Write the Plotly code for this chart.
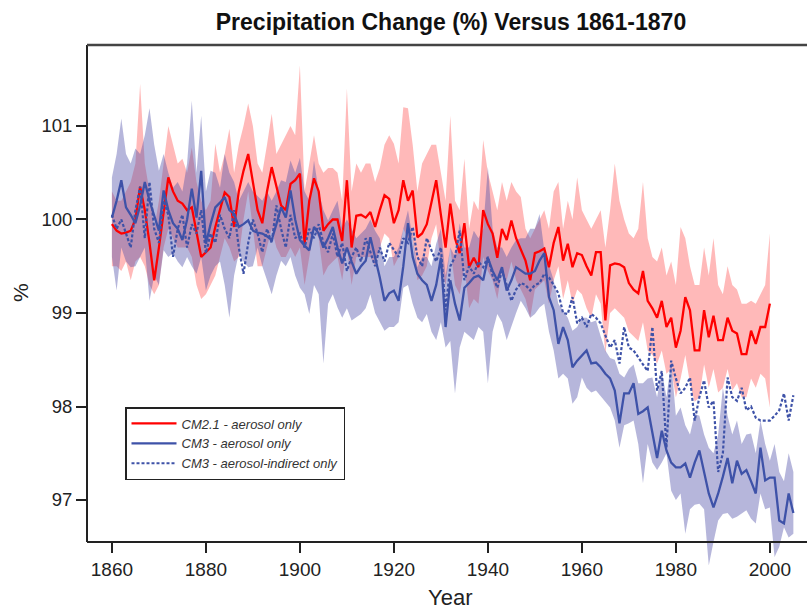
import plotly.graph_objects as go

# ---------------- data ----------------
start_year = 1860

cm21_aerosol = [
    99.95, 99.88, 99.85, 99.86, 99.88, 100.0, 100.35, 100.1, 99.75, 99.35,
    99.7, 100.05, 100.45, 100.3, 100.2, 100.17, 100.1, 100.13, 99.85, 99.6,
    99.65, 99.7, 99.92, 100.1, 100.29, 100.24, 99.92, 100.3, 100.52, 100.7,
    100.4, 100.1, 99.96, 100.3, 100.56, 100.35, 100.15, 100.1, 100.38, 100.42,
    100.49, 99.74, 100.2, 100.44, 100.3, 99.88, 99.95, 100.0, 100.0, 99.77,
    100.42, 99.7, 100.04, 100.05, 100.02, 100.08, 99.92, 100.1, 100.26, 100.22,
    99.96, 100.1, 100.42, 100.2, 100.31, 99.81, 99.85, 99.95, 100.2, 100.42,
    100.05, 99.7, 100.17, 99.8, 99.64, 99.96, 99.49, 99.59, 99.49, 100.1,
    99.95, 99.85, 99.59, 99.9, 99.78, 99.99, 99.8, 99.67, 99.56, 99.35,
    99.64, 99.66, 99.69, 99.49, 99.75, 99.92, 99.56, 99.74, 99.49, 99.64,
    99.62, 99.5, 99.4, 99.65, 99.65, 98.92, 99.51, 99.53, 99.52, 99.49,
    99.32, 99.25, 99.21, 99.45, 99.13, 99.05, 98.95, 99.13, 98.85, 98.95,
    98.63, 98.81, 99.17, 99.03, 98.6, 98.6, 99.03, 98.74, 98.97, 98.71,
    98.71, 98.95, 98.81, 98.78, 98.56, 98.56, 98.81, 98.67, 98.85, 98.85,
    99.1,
]
cm21_hi = [
    100.3, 100.2, 100.2, 100.3, 100.4, 100.6, 101.45, 100.6, 100.3, 99.9,
    100.2, 100.6, 101.0, 100.8, 100.6, 100.65, 100.5, 100.77, 100.4, 100.2,
    100.1, 100.2, 100.81, 100.5, 100.7, 100.97, 100.5, 100.8, 101.0, 101.24,
    101.0, 100.6, 100.5, 100.8, 101.13, 100.7, 100.8, 100.9, 101.0, 100.9,
    101.65, 100.3, 100.6, 100.9, 100.6, 100.5, 100.55, 100.55, 100.5, 100.2,
    101.4, 100.3, 100.6, 100.5, 100.6, 100.6, 100.4, 100.55, 100.8, 100.9,
    100.81, 100.6, 101.2, 101.19, 100.8, 100.3, 100.6, 100.7, 100.8, 100.8,
    100.5, 100.2, 101.11, 100.2, 100.1, 100.65, 99.9, 100.2, 100.1, 100.85,
    100.5, 100.3, 100.1, 100.4, 100.2, 100.4, 100.3, 100.24, 99.9, 99.8,
    99.9, 100.0, 100.1, 99.9, 100.3, 100.4, 99.9, 100.2, 100.0, 100.45,
    100.1, 100.0, 99.9, 100.0, 100.1, 99.7, 100.1, 100.6, 100.2, 100.0,
    99.85, 99.8, 99.9, 100.4, 99.8, 99.6, 99.55, 99.7, 99.4, 99.55,
    99.3, 99.92, 99.8, 99.5, 99.3, 99.3, 99.7, 99.4, 99.8, 99.3,
    99.2, 99.5, 99.3, 99.25, 99.1, 99.1, 99.13, 99.1, 99.2, 99.3,
    99.85,
]
cm21_lo = [
    99.5, 99.5, 99.45, 99.55, 99.35, 99.55, 99.6, 99.5, 99.3, 99.2,
    99.3, 99.7, 99.9, 99.8, 99.7, 99.7, 99.7, 99.6, 99.3, 99.15,
    99.2, 99.3, 99.4, 99.6, 99.8, 99.7, 99.55, 99.6, 100.0, 100.3,
    99.9, 99.5, 99.5, 99.7, 99.9, 99.7, 99.6, 99.6, 99.7, 99.6,
    99.7, 99.3, 99.6, 99.9, 99.8, 99.4, 99.5, 99.55, 99.6, 99.35,
    99.7, 99.3, 99.6, 99.6, 99.6, 99.6, 99.5, 99.7, 99.85, 99.8,
    99.5, 99.6, 99.9, 99.8, 99.8, 99.35, 99.4, 99.5, 99.8, 99.95,
    99.5, 99.3, 99.7, 99.3, 99.2, 99.5, 99.05, 99.15, 99.1, 99.6,
    99.45, 99.35, 99.15, 99.45, 99.35, 99.55, 99.35, 99.25, 99.15, 98.95,
    99.25, 99.3, 99.35, 99.1, 99.35, 99.5, 99.15, 99.35, 99.1, 99.25,
    99.2, 99.05, 98.95, 99.2, 99.1, 98.57, 99.0, 99.05, 99.0, 98.95,
    98.8, 98.75, 98.7, 98.9, 98.6, 98.55, 98.46, 98.6, 98.35, 98.4,
    98.1, 98.3, 98.55, 98.25, 98.05, 98.1, 98.45, 98.2, 98.4, 98.15,
    98.2, 98.4, 98.17, 98.25, 98.1, 98.1, 98.3, 98.2, 98.35, 98.3,
    97.99,
]

cm3_aerosol = [
    100.02, 100.2, 100.42, 100.13, 100.05, 99.96, 100.15, 100.4, 100.2, 100.05,
    99.88, 100.31, 100.1, 99.96, 99.9, 99.78, 100.0, 100.33, 100.02, 100.52,
    99.74, 99.95, 100.13, 100.18, 100.24, 100.1, 100.06, 99.92, 99.95, 99.99,
    99.88, 99.86, 99.85, 99.82, 99.78, 99.95, 100.13, 100.02, 100.31, 100.0,
    99.78, 99.72, 99.67, 99.92, 99.85, 99.7, 99.8, 99.92, 99.7, 99.53,
    99.7, 99.55, 99.42, 99.5, 99.56, 99.81, 99.6, 99.38, 99.13, 99.21,
    99.24, 99.13, 99.5, 99.96, 99.6, 99.42, 99.35, 99.3, 99.13, 99.3,
    99.59, 98.85, 99.35, 99.1, 98.92, 99.27, 99.32, 99.38, 99.4, 99.35,
    99.59, 99.45, 99.35, 99.49, 99.24, 99.35, 99.49, 99.45, 99.42, 99.42,
    99.45, 99.56, 99.64, 99.17, 99.03, 98.67, 98.85, 98.71, 98.42, 98.49,
    98.55, 98.6, 98.46, 98.47, 98.42, 98.35, 98.3, 98.17, 97.82, 98.14,
    98.14, 98.25, 97.92, 97.95, 97.99, 97.7, 97.45, 97.74, 97.53, 97.4,
    97.35, 97.35, 97.39, 97.24, 97.4, 97.53, 97.3, 97.07, 96.92, 97.07,
    97.25, 97.45, 97.18, 97.42, 97.28, 97.32, 97.2, 97.07, 97.56, 97.21,
    97.24, 97.24, 96.78, 96.75, 97.07, 96.86,
]
cm3_hi = [
    100.45, 100.7, 101.08, 100.7, 100.6, 100.76, 100.7, 100.9, 101.19, 100.8,
    100.52, 100.7, 100.5, 100.34, 100.4, 100.3, 100.6, 101.27, 100.5, 101.11,
    100.3, 100.52, 100.5, 100.34, 100.7, 100.5, 100.4, 100.2, 100.3, 100.4,
    100.3, 100.25, 100.2, 100.3, 100.2, 100.3, 100.42, 100.4, 100.63, 100.5,
    100.66, 100.3, 100.2, 100.63, 100.3, 100.1, 99.99, 100.1, 100.2, 99.9,
    100.0, 99.9, 99.8, 99.85, 99.9, 100.0, 99.88, 99.8, 99.5, 99.6,
    99.6, 99.7, 99.9, 100.1, 99.8, 99.49, 99.6, 99.6, 99.5, 99.74,
    99.9, 99.4, 99.7, 99.6, 99.96, 99.7, 99.7, 99.88, 99.8, 99.9,
    100.56, 99.9, 99.7, 99.7, 99.6, 99.7, 99.78, 99.8, 99.8, 99.9,
    99.9, 100.06, 99.67, 99.5, 99.35, 99.1, 99.03, 98.95, 98.81, 98.85,
    98.95, 98.95, 98.9, 98.92, 98.75, 98.6, 98.52, 98.5, 98.35, 98.31,
    98.4, 98.45, 98.25, 98.25, 98.3, 98.31, 98.1, 98.38, 98.1, 98.49,
    97.9, 97.99, 97.8, 97.7, 97.92, 97.9, 97.7, 97.56, 97.5, 97.7,
    98.2, 97.9, 97.7, 97.85, 97.6, 97.7, 97.71, 97.5, 97.85, 97.6,
    97.42, 97.6, 97.3, 97.2, 97.5, 97.3,
]
cm3_lo = [
    99.6, 99.24, 99.7, 99.55, 99.49, 99.5, 99.6, 99.7, 99.13, 99.4,
    99.3, 99.67, 99.6, 99.64, 99.55, 99.49, 99.6, 99.5, 99.42, 99.6,
    99.24, 99.4, 99.5, 99.55, 99.3, 98.95, 99.4, 99.64, 99.55, 99.49,
    99.5, 99.7, 99.5, 99.35, 99.2, 99.4, 99.56, 99.5, 99.6, 99.4,
    99.27, 99.2, 98.99, 99.3, 99.2, 98.46, 99.1, 99.2, 99.06, 98.95,
    99.05, 98.92, 98.95, 98.99, 99.05, 99.2, 99.0, 98.9, 98.81, 98.85,
    98.85, 98.9, 99.27, 99.3, 99.1, 98.95, 98.9, 98.99, 98.8, 98.71,
    98.9, 98.63, 98.7, 98.14, 98.63, 98.8, 98.75, 98.71, 98.85, 98.8,
    98.25, 98.8, 98.99, 98.9, 98.71, 98.85, 99.0, 99.13, 99.05, 98.95,
    98.99, 99.06, 99.1, 98.8, 98.6, 98.3, 98.35, 98.3, 98.03, 98.1,
    98.31, 98.2, 98.15, 98.17, 98.1, 98.05, 97.99, 97.85, 97.56, 97.8,
    97.82, 97.85, 97.6, 97.18, 97.6, 97.4, 97.32, 97.4, 97.5, 97.1,
    97.0, 97.07, 96.64, 96.9, 96.95, 96.96, 96.9, 96.3, 96.55, 96.78,
    96.85, 96.86, 96.8, 96.82, 96.85, 96.89, 96.8, 96.75, 97.07, 96.9,
    96.92, 96.39, 96.5, 96.71, 96.6, 96.64,
]

cm3_indirect = [
    100.05, 99.9, 100.0, 99.85, 99.7, 100.1, 100.35, 99.8, 100.4, 99.9,
    99.75, 100.2, 100.05, 99.6, 99.9, 100.05, 99.7, 99.95, 99.85, 100.1,
    99.64, 99.85, 99.75, 100.05, 99.9, 99.8, 100.1, 99.7, 99.42, 99.75,
    100.0, 99.85, 99.65, 99.9, 99.75, 100.15, 99.9, 99.7, 100.05, 99.8,
    99.85, 99.7, 99.9, 99.8, 99.95, 99.75, 99.65, 99.85, 99.6, 99.75,
    99.45, 99.6, 99.7, 99.55, 99.8, 99.65, 99.5, 99.7, 99.55, 99.75,
    99.67, 99.6, 99.8, 99.75, 99.92, 99.6, 99.5, 99.8, 99.67, 99.55,
    99.7, 99.03, 99.5, 99.6, 99.88, 99.35, 99.5, 99.42, 99.55, 99.49,
    99.6, 99.4, 99.27, 99.45, 99.3, 99.13, 99.25, 99.32, 99.3, 99.24,
    99.3, 99.32, 99.42, 99.38, 99.3, 99.21, 99.0, 98.99, 99.17, 98.89,
    98.95, 98.85, 98.99, 98.95, 98.89, 98.75, 98.63, 98.71, 98.46, 98.85,
    98.63, 98.6, 98.52, 98.45, 98.38, 98.85, 98.17, 98.38, 97.56, 98.49,
    98.3, 98.14, 98.2, 98.31, 97.85, 98.1, 98.28, 97.99, 98.06, 97.3,
    97.5, 98.31, 98.1, 98.06, 98.2, 97.96, 98.0, 97.88, 97.85, 97.85,
    97.85, 97.9, 97.96, 98.14, 97.85, 98.12,
]

x_ticks = [1860, 1880, 1900, 1920, 1940, 1960, 1980, 2000]
y_ticks = [97, 98, 99, 100, 101]
title_text = "Precipitation Change (%) Versus 1861-1870"
series_names = ["CM2.1 - aerosol only", "CM3 - aerosol only", "CM3 - aerosol-indirect only"]

# ---------------- styling ----------------
RED = "#ff0000"
BLUE = "#3e52a8"
RED_BAND = "rgba(255,70,70,0.38)"
BLUE_BAND = "rgba(80,80,170,0.42)"
FONT = "Liberation Sans, Arial, Helvetica, sans-serif"
AXC = "#222222"

years_red = list(range(start_year, start_year + len(cm21_aerosol)))
years_blue = list(range(start_year, start_year + len(cm3_aerosol)))
years_dot = list(range(start_year, start_year + len(cm3_indirect)))

fig = go.Figure()

# bands
fig.add_trace(go.Scatter(
    x=years_red + years_red[::-1], y=cm21_hi + cm21_lo[::-1],
    fill="toself", fillcolor=RED_BAND, line=dict(width=0),
    mode="lines", showlegend=False, hoverinfo="skip"))
fig.add_trace(go.Scatter(
    x=years_blue + years_blue[::-1], y=cm3_hi + cm3_lo[::-1],
    fill="toself", fillcolor=BLUE_BAND, line=dict(width=0),
    mode="lines", showlegend=False, hoverinfo="skip"))

# lines
fig.add_trace(go.Scatter(x=years_red, y=cm21_aerosol, mode="lines",
                         name=series_names[0], line=dict(color=RED, width=2.3)))
fig.add_trace(go.Scatter(x=years_blue, y=cm3_aerosol, mode="lines",
                         name=series_names[1], line=dict(color=BLUE, width=2.3)))
fig.add_trace(go.Scatter(x=years_dot, y=cm3_indirect, mode="lines",
                         name=series_names[2],
                         line=dict(color=BLUE, width=2.2, dash="3px,2px")))

# geometry: plot area from y=45px to y=565px; bottom axis line at y=542px
Y_TOP, Y_BOT = 101.866, 96.305
AXIS_POS = (565 - 542) / 520
y_axis_val = Y_BOT + AXIS_POS * (Y_TOP - Y_BOT)

fig.update_layout(
    width=807, height=610,
    margin=dict(l=87, r=0, t=45, b=45, pad=0),
    paper_bgcolor="white", plot_bgcolor="white",
    font=dict(family=FONT, color=AXC),
    title=dict(text="<b>" + title_text + "</b>", x=451 / 807, xref="container",
               xanchor="center", y=1 - 22 / 610, yref="container", yanchor="middle",
               font=dict(size=23, color="#111111")),
    xaxis=dict(range=[1854.7, 2007.9], tickmode="array", tickvals=x_ticks,
               ticks="outside", ticklen=10, tickwidth=2, tickcolor=AXC,
               showline=True, linewidth=2, linecolor=AXC, showgrid=False,
               zeroline=False, anchor="free", position=AXIS_POS,
               tickfont=dict(size=19, color=AXC)),
    yaxis=dict(range=[Y_BOT, Y_TOP], tickmode="array", tickvals=y_ticks,
               ticks="outside", ticklen=10, tickwidth=2, tickcolor=AXC,
               showline=False, showgrid=False, zeroline=False,
               tickfont=dict(size=18.5, color=AXC)),
    legend=dict(x=(125 - 87) / 720, y=(565 - 407) / 520, xanchor="left", yanchor="top",
                bgcolor="white", bordercolor=AXC, borderwidth=1.5,
                font=dict(size=13, style="italic", color="#333333"),
                itemwidth=45, tracegroupgap=0),
    showlegend=True,
)

fig.add_shape(type="line", xref="paper", yref="y", x0=0, x1=0,
              y0=y_axis_val, y1=Y_TOP, line=dict(color=AXC, width=2))
fig.add_shape(type="line", xref="paper", yref="paper", x0=0, x1=1,
              y0=1, y1=1, line=dict(color="#444444", width=2.5))

fig.add_annotation(text="%", xref="paper", yref="paper", x=(20 - 87) / 720,
                   y=(565 - 293) / 520, textangle=-90, showarrow=False,
                   font=dict(size=21, color=AXC), xanchor="center", yanchor="middle")
fig.add_annotation(text="Year", xref="paper", yref="paper", x=(450 - 87) / 720,
                   y=(565 - 597) / 520, showarrow=False,
                   font=dict(size=22, color=AXC), xanchor="center", yanchor="middle")

fig.write_html("out.html")
